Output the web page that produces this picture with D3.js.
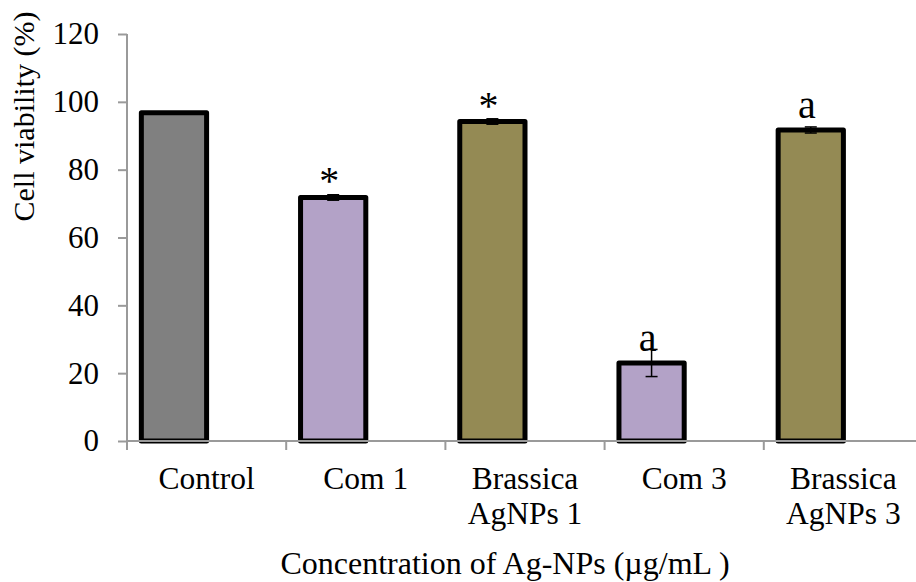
<!DOCTYPE html>
<html>
<head>
<meta charset="utf-8">
<script src="https://cdn.jsdelivr.net/npm/d3@7"></script>
<style>
  html, body { margin: 0; padding: 0; background: #fff; }
  svg { display: block; font-family: "Liberation Serif", "Times New Roman", serif; }
</style>
</head>
<body>
<svg id="chart" width="916" height="582"></svg>
<script>
// Cell viability per treatment
const categories = ["Control", "Com 1", "Brassica AgNPs 1", "Com 3", "Brassica AgNPs 3"];
const categoryLines = [["Control"], ["Com 1"], ["Brassica", "AgNPs 1"], ["Com 3"], ["Brassica", "AgNPs 3"]];
const viability = [96.8, 71.8, 94.2, 23.0, 91.7];
const errors = [0, 0.8, 0.8, 4.0, 0.9];
const annotations = ["", "*", "*", "a", "a"];
const fills = ["#808080", "#B3A2C7", "#948A54", "#B3A2C7", "#948A54"];
const yTicks = [0, 20, 40, 60, 80, 100, 120];

const serif = "Liberation Serif, Times New Roman, serif";
const svg = d3.select("#chart");

const plotLeft = 127, plotBottom = 441, plotTop = 34, bandStep = 159.2;

const y = d3.scaleLinear().domain([0, 120]).range([plotBottom, plotTop]);
const x0 = d3.scaleBand()
  .domain(categories)
  .range([plotLeft, plotLeft + bandStep * categories.length])
  .padding(0);
// Each cluster holds the value series plus an empty slot, so bars sit left of the band centre
const x1 = d3.scaleBand()
  .domain(["value", "spare"])
  .range([0, x0.bandwidth()])
  .paddingInner(0)
  .paddingOuter(0.22);

const data = categories.map((c, i) => ({
  cat: c, value: viability[i], err: errors[i], note: annotations[i], fill: fills[i], lines: categoryLines[i]
}));

// Bars
svg.append("g").selectAll("rect")
  .data(data)
  .join("rect")
  .attr("x", d => x0(d.cat) + x1("value"))
  .attr("y", d => y(d.value))
  .attr("width", x1.bandwidth())
  .attr("height", d => y(0) - y(d.value))
  .attr("fill", d => d.fill)
  .attr("stroke", "#000")
  .attr("stroke-width", 5)
  .attr("stroke-linejoin", "round");

// Y axis
const yAxis = d3.axisLeft(y).tickValues(yTicks).tickSize(9).tickPadding(19);
const gy = svg.append("g").attr("transform", `translate(${plotLeft},0)`).call(yAxis);
gy.attr("font-family", serif);
gy.select(".domain").remove();
gy.selectAll(".tick line").attr("stroke", "#9a9a9a").attr("stroke-width", 2);
gy.selectAll(".tick text")
  .attr("font-family", serif)
  .attr("font-size", 31).attr("fill", "#000");
svg.append("line")
  .attr("x1", plotLeft).attr("x2", plotLeft)
  .attr("y1", y(120)).attr("y2", y(0) + 9)
  .attr("stroke", "#9a9a9a").attr("stroke-width", 2);

// X axis: baseline and tick marks at category boundaries
svg.append("line")
  .attr("x1", plotLeft).attr("x2", x0.range()[1])
  .attr("y1", y(0)).attr("y2", y(0))
  .attr("stroke", "#9a9a9a").attr("stroke-width", 2);
const boundaries = categories.slice(1).map(c => x0(c));
svg.append("g").selectAll("line")
  .data(boundaries)
  .join("line")
  .attr("x1", d => d).attr("x2", d => d)
  .attr("y1", y(0)).attr("y2", y(0) + 9)
  .attr("stroke", "#9a9a9a").attr("stroke-width", 2);

// Category labels
const labels = svg.append("g").selectAll("text")
  .data(data)
  .join("text")
  .attr("x", d => x0(d.cat) + x0.bandwidth() / 2)
  .attr("y", 489)
  .attr("text-anchor", "middle")
  .attr("font-family", serif)
  .attr("font-size", 31.5)
  .attr("fill", "#000");
labels.selectAll("tspan")
  .data(d => d.lines.map(t => ({ t, x: x0(d.cat) + x0.bandwidth() / 2 })))
  .join("tspan")
  .attr("x", d => d.x)
  .attr("dy", (d, i) => i === 0 ? 0 : 35)
  .text(d => d.t);

// Error bars
const cx = d => x0(d.cat) + x1("value") + x1.bandwidth() / 2;
const eb = svg.append("g").selectAll("g")
  .data(data.filter(d => d.err > 0))
  .join("g")
  .attr("stroke", "#000")
  .attr("stroke-width", 1.5);
eb.append("line")
  .attr("x1", cx).attr("x2", cx)
  .attr("y1", d => y(d.value + d.err)).attr("y2", d => y(d.value - d.err));
eb.append("line")
  .attr("x1", d => cx(d) - 6).attr("x2", d => cx(d) + 6)
  .attr("y1", d => y(d.value + d.err)).attr("y2", d => y(d.value + d.err));
eb.append("line")
  .attr("x1", d => cx(d) - 6).attr("x2", d => cx(d) + 6)
  .attr("y1", d => y(d.value - d.err)).attr("y2", d => y(d.value - d.err));

// Significance marks above bars
svg.append("g").selectAll("text")
  .data(data.filter(d => d.note))
  .join("text")
  .attr("x", d => cx(d) - 4)
  .attr("y", d => y(d.value) - (d.note === "*" ? 3 : 12))
  .attr("text-anchor", "middle")
  .attr("font-family", serif)
  .attr("font-size", 40)
  .attr("fill", "#000")
  .text(d => d.note);

// Axis titles
svg.append("text")
  .attr("transform", "translate(34,116.5) rotate(-90)")
  .attr("text-anchor", "middle")
  .attr("font-family", serif)
  .attr("font-size", 30)
  .attr("fill", "#000")
  .text("Cell viability (%)");
svg.append("text")
  .attr("x", 505).attr("y", 574)
  .attr("text-anchor", "middle")
  .attr("font-family", serif)
  .attr("font-size", 32)
  .attr("fill", "#000")
  .text("Concentration of Ag-NPs (µg/mL )");
</script>
</body>
</html>
